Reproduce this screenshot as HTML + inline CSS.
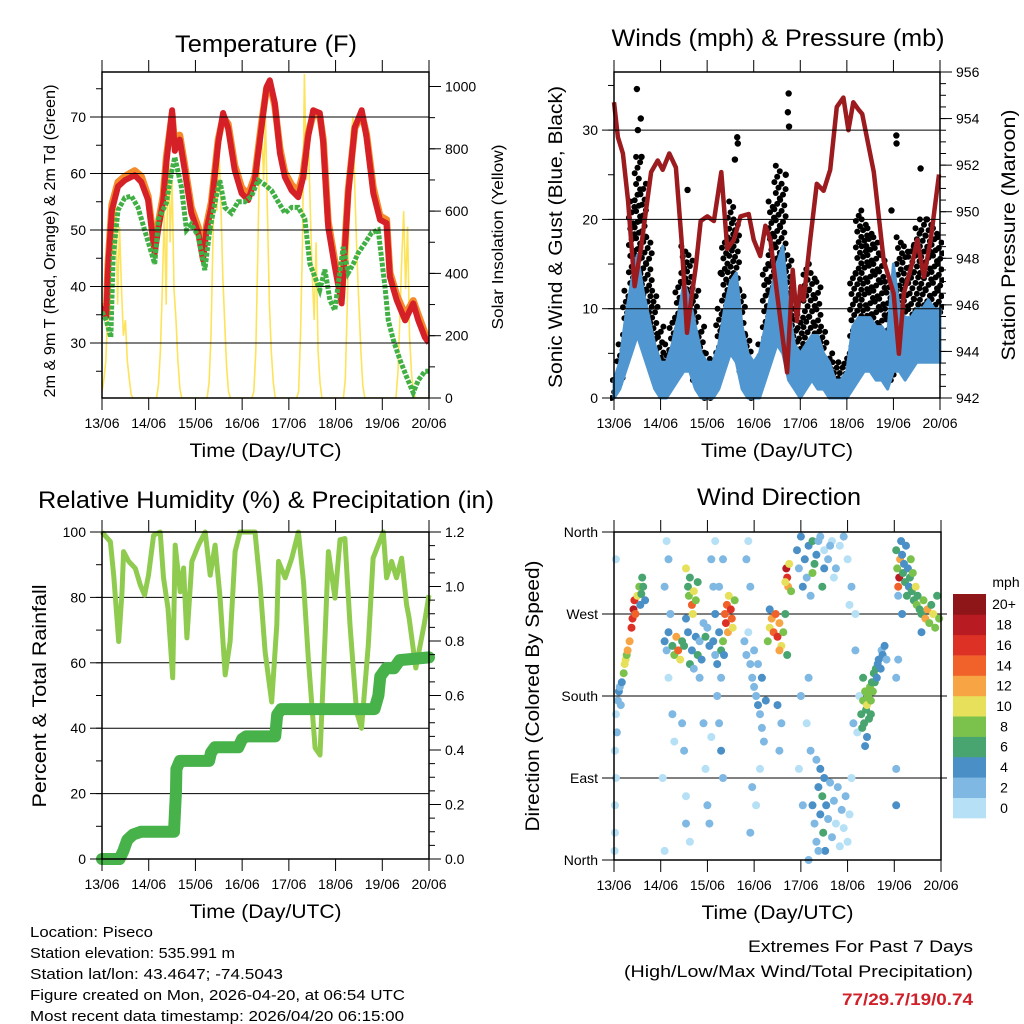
<!DOCTYPE html>
<html><head><meta charset="utf-8"><style>
html,body{margin:0;padding:0;background:#fff;}
svg{display:block;font-family:"Liberation Sans",sans-serif;}
</style></head><body>
<svg id="chart" width="1024" height="1024" viewBox="0 0 1024 1024" xmlns="http://www.w3.org/2000/svg"></svg>
<script>
// ---------- DATA ----------
const tempHours=[0,2.2,3.1,5.1,8.2,11.7,16.8,20.2,23.7,27.1,28.8,31.4,33.1,36,37.4,39.9,42.5,45.9,49.4,51.9,53.7,56.2,59.7,62.2,64.8,68.2,71.7,75.1,78.5,81.9,84.5,86.2,88.8,91.4,93.9,97.4,100.8,103.4,105.9,108.5,111.9,113.7,116.2,119.6,123.1,126.5,129.9,133.4,135.9,139.4,142.8,146.2,147.9,151.4,155.7,159.9,162.5,165.9,168];
const tempRed=[36.5,34.7,43,53.5,57.7,58.8,59.7,58.5,55.3,45.9,50,55,62,71.2,64,66,60.6,53,49.5,44.7,50,54,65.4,70.7,68,60.6,56.5,55.3,58.8,68,75.3,76.5,72.5,63.6,59.4,57,55.8,59.4,66.5,71.2,70.7,65.4,50.5,43.5,37,56.5,68.2,71.2,66.5,56.5,51.8,51.2,41.7,37.6,34,37,34,31,30];
const tempOrange=[37,35.5,44,54.5,58.5,59.5,60.5,59.5,56,46.5,51,56,63,70.5,65,66.8,61.5,54,50.5,45.5,50.8,55,66,70,68.8,61.5,57.5,56.2,59.5,68.8,75,76,72,64.5,60.2,58,56.8,60.2,67,70.5,70.2,66,51.5,44.5,38,57,68,70.6,67,57.5,52.5,51.8,42.5,38.5,35,37.5,35,31.8,30.5];
const dewHours=[0,2.2,4.5,5.7,8.2,11.7,15.1,18.5,21.9,25.4,27.1,29.1,33.1,35.6,37.4,40.8,43.4,45.9,49.4,52.8,55.4,58,60.5,63.1,66.5,69.9,73.4,76.8,80.2,83.7,87.1,90.5,94,97.4,100.8,104.2,106.8,109.4,111.9,114.5,117.1,119.6,123.9,126.5,129.1,131.6,135.1,138.5,141.9,145.4,147.1,149.7,153.1,156.5,159.9,162.5,165.9,168];
const dewValues=[35.5,34,31,45,53.5,55.7,56,54,50,46,44,52,54.8,60,62.9,57.6,50,51,49,42.9,50,54.8,58.8,54,53,55,55,56,58.8,58,57,55,53,54,54,52,44,41.7,39.4,43,37.6,35.8,47,42.4,44,45.9,47.7,49.5,50,39.9,34,30.5,27,24,21.2,23.4,25,25];
const solarValues=[20,60,120,300,250,600,450,650,300,550,350,200,250,120,60,10,0,0,0,0,0,0,0,0,
0,0,0,0,0,40,150,350,600,300,850,500,700,350,250,120,30,0,0,0,0,0,0,0,
0,0,0,0,0,0,0,50,200,500,750,600,800,650,400,250,100,20,0,0,0,0,0,0,
0,0,0,0,0,0,20,150,450,800,890,700,900,600,300,150,50,0,0,0,0,0,0,0,
0,0,0,0,0,20,200,500,1040,700,850,600,400,250,500,150,50,0,0,0,0,0,0,0,
0,0,0,0,0,60,300,600,850,900,650,450,300,150,40,0,0,0,0,0,0,0,0,0,
0,0,0,0,0,0,0,0,80,250,450,600,350,550,200,80,20,0,0,0,0,0,0,0,0];
const windHours=[0,3,6,9,12,15,18,21,24,27,30,33,36,39,42,45,48,51,54,57,60,63,66,69,72,75,78,81,84,87,90,93,96,99,102,105,108,111,114,117,120,123,126,129,132,135,138,141,144,147,150,153,156,159,162,165,168];
const windLow=[0,1,3,5,7,5,3,1,0,0,1,2,3,3,1,0,0,0,1,3,5,4,1,0,0,0,2,4,6,5,2,1,0,1,2,1,1,0,0,0,0,1,2,3,3,2,2,1,3,3,2,3,4,4,4,4,4];
const windHigh=[2,4,9,13,16,12,9,6,4,4,6,9,13,11,8,5,4,4,6,10,13,14,8,5,4,5,8,12,15,17,10,6,5,6,7,7,5,4,2,2,3,8,9,9,9,8,8,7,15,10,9,9,10,10,11,10,10];
const gustLow=[0,1,4,8,10,8,6,3,1,1,2,3,5,5,2,1,0,0,2,5,8,8,3,1,0,1,5,10,12,10,5,2,2,5,6,5,2,1,1,1,1,4,8,8,7,6,5,4,2,6,6,7,8,8,9,8,9];
const gustHigh=[2,6,12,22,27,24,18,12,8,6,9,13,17,16,12,8,5,4,10,18,22,20,12,7,4,6,15,22,26,24,16,10,9,15,14,13,8,5,4,4,5,14,21,20,19,18,16,13,10,18,17,17,19,20,20,19,18];
const gustPeakHours=[11.8,13.8,12.3,14.2,37.9,55,62.3,63.5,63.8,88.5,90,89.6,90.2,145.5,145.6,158,161,143,130];
const gustPeakValues=[34.6,31.3,30,27,23.3,14,26.7,29.2,28.5,25,34.1,32,30.4,29.4,28.5,25.7,20,21,17];
const presHours=[0,2,4.6,7.2,10.6,14,19.1,22.5,25.1,28.5,31.9,34.8,37.6,39.9,42.1,44.7,48.1,51.5,55.3,58.4,61.8,65.2,69.4,72,75.4,78,80.6,84,89.2,92.1,94.3,96,97.7,101.1,104.5,108,111.4,114.8,118.2,120.8,123.3,125.9,127.9,133.9,139,144.1,146.8,149.4,153.7,156.3,159.7,163.2,167.5];
const presValues=[954.7,953.2,952.5,950.5,946.8,948.5,951.7,952.2,951.8,952.5,951.9,948.8,944.8,946.3,947.6,949.6,949.8,949.6,951.7,948.4,948.8,949.8,949.9,948.8,948.1,949.4,948.8,946.5,943.1,947.5,945.3,946.8,946.2,948.8,951.2,950.9,951.8,954.5,954.9,953.5,954.7,954.4,954.2,951.7,947.9,946.5,943.9,946.5,947.8,948.8,947.2,948.8,951.6];
const rhHours=[0,4.3,6,8.6,10.3,11.1,13.7,17.1,19.7,21.9,23.9,26.5,29.9,31.6,33.9,36.3,37.6,40.2,41.9,43.6,46.2,49.6,53,55.6,58.1,60.7,63.3,65.8,68.4,70.9,78.6,81.2,83.8,87.2,89.8,90.7,94.1,97.5,100.9,103.5,106,109.5,112,114.6,116.3,119.7,122.3,124.8,127.4,130.8,133.3,136.8,139.3,144.5,146.2,148.8,151.3,153.9,156.5,157.8,161.2,165.5,168];
const rhValues=[100,97,86.8,66.5,81.7,94,91,88.9,83.8,80.7,86.8,99,100,86,76.7,55.4,96,81.7,89,67.6,91,96,100,86.8,96,79.8,56.3,66.5,94,100,100,83.8,63.4,48,71.6,91,86,92,100,84.8,61.4,34,31.8,68.5,94,79.8,97.6,98,71.6,45,40,65.4,92,100,86,91,86,92,77.7,73.7,58.4,71.6,80.7];
const precipHours=[0,9,11,13,16,20,37,37.4,37.8,38,38.2,40,55,56,58,70,72,74,89,90,92,140,142,143,146,150,153,168];
const precipValues=[0,0,0.03,0.07,0.09,0.1,0.1,0.16,0.22,0.25,0.33,0.36,0.36,0.39,0.41,0.41,0.44,0.45,0.45,0.53,0.55,0.55,0.6,0.67,0.7,0.7,0.73,0.74];
const dirHours=[2,2.5,3,3.5,4,5,5.5,6,6.5,7,8,9,9.5,10,10.5,11,12,13,14,13.5,15,16,14.5,0.5,0.5,1,0.5,1.5,1,0.3,1,
26,27,28,30,31,32,33,34,35,36,38,39,40,42,43,44,45,46,48,49,47,41,37,29,
37,38,38.5,39,40,41,42,43,40.5,
27,28,26,30,31,35,36,37,37,39,25,28,26,44,46,47,48,49,50,50,51,52,
57,57.5,58,58.5,59,60,60.5,61,62,56,55,56.5,
51,52,53,54,55,53,54,55,56,54,52,56,
67,68,69,70,71,72,73,74,75,76,77,72,74,76,78,79,80,81,82,83,84,85,86,87,88,89,80,85,70,68,69,71,73,70,75,85,86,84,
88.5,89,89.5,90,88,91,
94,95,96,97,98,99,100,101,102,103,104,102,100,99,101,96,95,97,
102,103,104,105,106,107,107.5,108,108.5,109,110,111,112,113,114,115,116,117,118,119,120,121,122,106,105,100,104,
106,108,110,112,114,116,118,120,122,107,108,111,113,105,121,124,124,126,123,125,
127,127.5,128,128.5,129,129.5,130,130.5,131,131.5,132,132.5,133,133.5,134,134.5,135,135.5,136,137,137.5,138,139,140,128,130,129,132,
145,145.5,146,146.5,147,147.5,148,148.5,149,149.5,150,150.5,151,151.5,152,152.5,153,153.5,154,155,155.5,156,157,158,159,160,161,162,163,164,165,166,167,146,158,148,145,145,145,146];
const dirValues=[175,185,190,170,195,205,215,220,225,230,240,255,265,275,285,270,290,300,292,280,300,285,310,120,60,90,30,140,160,10,330,
240,230,250,235,225,245,230,220,240,235,250,215,230,245,225,240,220,260,255,235,245,210,265,270,
320,300,290,310,280,295,285,305,270,
350,330,300,160,130,150,120,70,40,20,90,200,10,200,150,100,60,40,135,330,300,270,
270,260,280,250,290,275,265,255,285,240,230,225,
240,225,215,250,200,180,150,120,90,300,350,330,
240,225,250,215,200,190,180,170,160,145,130,230,215,200,175,240,255,265,250,270,245,260,235,250,270,225,275,230,300,330,350,80,60,30,100,120,150,170,
320,310,300,325,305,295,
340,320,355,300,330,310,345,290,350,325,335,315,200,150,120,180,100,60,
60,40,20,80,50,70,30,90,10,60,45,85,25,65,40,80,15,55,35,70,20,50,90,100,10,0,110,
355,340,330,350,320,345,355,330,300,300,320,345,310,350,280,230,270,180,150,140,
160,145,175,150,185,165,170,180,155,190,175,195,185,205,195,210,200,215,220,210,230,225,235,220,200,135,125,160,
340,320,300,310,330,350,335,315,325,305,345,290,320,300,310,330,295,315,285,300,280,290,275,270,285,265,275,260,280,270,255,290,265,290,250,270,200,100,60,220];
const dirSpeeds=[3,4,3,2,5,8,10,11,9,12,13,16,17,18,16,15,10,8,6,5,7,4,6,1,0,1,1,2,1,0,1,
4,3,5,6,8,12,14,10,6,7,5,6,4,5,7,3,4,2,3,4,6,3,4,3,
10,6,8,7,14,10,9,6,11,
1,2,2,2,1,2,2,1,2,1,1,1,0,2,2,1,2,3,1,2,3,4,
14,16,15,12,10,17,14,11,8,8,6,5,
4,3,5,4,3,2,2,4,2,3,1,2,
2,3,1,2,3,2,3,4,3,2,3,2,3,4,4,8,10,12,14,15,16,13,10,8,7,6,5,12,2,2,1,2,1,2,1,3,2,4,
18,16,12,11,10,9,
4,3,5,4,4,3,5,3,6,7,5,8,2,1,3,2,1,2,
4,3,2,4,5,6,6,4,5,4,3,2,3,2,1,2,1,2,1,2,1,1,1,4,3,3,2,
2,1,2,1,2,1,2,1,2,6,5,2,1,3,1,2,1,1,2,1,
6,7,8,6,9,7,10,8,7,8,9,7,8,6,7,6,5,4,5,4,3,5,4,3,7,5,4,6,
6,8,14,18,12,5,4,6,5,7,5,6,4,5,6,8,7,9,6,10,8,6,7,6,8,12,12,9,7,10,8,6,9,3,4,4,3,3,4,2];
const speedColors=["#b5e0f6","#7fb8e2","#4a8fc6","#48a56f","#7bc24d","#e7e05a","#f7a445","#f0622a","#de3126","#b81b22","#8e1518"];
const speedLabels=["0","2","4","6","8","10","12","14","16","18","20+"];
const dayLabels=["13/06","14/06","15/06","16/06","17/06","18/06","19/06","20/06"];

// ---------- HELPERS ----------
const NS="http://www.w3.org/2000/svg";
const svg=document.getElementById('chart');
function mk(tag,attrs,parent){const e=document.createElementNS(NS,tag);for(const k in attrs)e.setAttribute(k,attrs[k]);(parent||svg).appendChild(e);return e;}
function txt(s,x,y,size,anchor,parent,extra){const e=mk('text',Object.assign({x:x,y:y,'font-size':size,'text-anchor':anchor||'middle',fill:'#000'},extra||{}),parent);e.textContent=s;return e;}
function lin(d0,d1,r0,r1){return v=>r0+(v-d0)/(d1-d0)*(r1-r0);}
function pts(xs,ys,fx,fy){return xs.map((h,i)=>fx(h).toFixed(1)+","+fy(ys[i]).toFixed(1)).join(" ");}

function xAxis(g,x0,x1,y0,y1,fx){
  dayLabels.forEach((d,i)=>{const x=fx(i*24);
    const t=mk('line',{x1:x,x2:x,y1:y1,y2:y1+12,stroke:'#000','stroke-width':1},g);
    
    mk('line',{x1:x,x2:x,y1:y0,y2:y0-12,stroke:'#000','stroke-width':1},g);
    const l=txt(d,x,y1+30,14,'middle',g);
    
  });
  const a=txt("Time (Day/UTC)",(x0+x1)/2,y1+59,19,'middle',g,{textLength:152,lengthAdjust:'spacingAndGlyphs'});
  
}
function yTicks(g,vals,fy,xEdge,side,labels,minor,y0,y1){
  const dir=side==='left'?-1:1;
  vals.forEach((v,i)=>{const y=fy(v);
    mk('line',{x1:xEdge,x2:xEdge+dir*12,y1:y,y2:y,stroke:'#000','stroke-width':1},g);
    if(labels){const l=txt(labels[i],xEdge+dir*16,y+5,14,side==='left'?'end':'start',g);
      }
  });
  (minor||[]).forEach(v=>{const y=fy(v);if(y<y0-0.5||y>y1+0.5)return;
    mk('line',{x1:xEdge,x2:xEdge+dir*6,y1:y,y2:y,stroke:'#000','stroke-width':1},g);});
}
function range(a,b,s){const r=[];for(let v=a;v<=b+1e-9;v+=s)r.push(+v.toFixed(4));return r;}
function grid(g,vals,fy,x0,x1){vals.forEach(v=>{const y=fy(v);
  const l=mk('line',{x1:x0,x2:x1,y1:y,y2:y,stroke:'#000','stroke-width':1},g);
  });}
function frame(g,x0,x1,y0,y1){const r=mk('rect',{x:x0,y:y0,width:x1-x0,height:y1-y0,fill:'none',stroke:'#000','stroke-width':1.5},g);
  }
function vlabel(g,s,x,yc,len,size){const e=txt(s,0,0,size,'middle',g,{transform:`translate(${x},${yc}) rotate(-90)`,textLength:len,lengthAdjust:'spacingAndGlyphs'});return e;}

// ---------- PANEL 1: TEMPERATURE ----------
(function(){
  const g=mk('g',{});
  
  const x0=102,x1=429,y0=72,y1=398;
  const fx=lin(0,168,x0,x1), fy=lin(30,70,343,117), fs=lin(0,1000,398,86.5);
  const cp=mk('clipPath',{id:'c1'},g);mk('rect',{x:x0,y:y0,width:x1-x0,height:y1-y0},cp);
  const pg=mk('g',{'clip-path':'url(#c1)'},g);
  const sh=solarValues.map((v,i)=>i);
  const s=mk('polyline',{points:pts(sh,solarValues,fx,fs),fill:'none',stroke:'#fde35a','stroke-width':1.6},pg);
  
  grid(g,[30,40,50,60,70],fy,x0,x1);
  const o=mk('polyline',{points:pts(tempHours,tempOrange,fx,fy),fill:'none',stroke:'#f58a2a','stroke-width':7,'stroke-linejoin':'round'},pg);
  
  const r=mk('polyline',{points:pts(tempHours,tempRed,fx,fy),fill:'none',stroke:'#d62027','stroke-width':6,'stroke-linejoin':'round'},pg);
  
  const d=mk('polyline',{points:pts(dewHours,dewValues,fx,fy),fill:'none',stroke:'#41b044','stroke-width':5,'stroke-dasharray':'4 1.5'},pg);
  
  frame(g,x0,x1,y0,y1);
  yTicks(g,[30,40,50,60,70],fy,x0,'left',["30","40","50","60","70"],range(20,78,5),y0,y1);
  yTicks(g,[0,200,400,600,800,1000],fs,x1,'right',["0","200","400","600","800","1000"],range(0,1000,100),y0,y1);
  xAxis(g,x0,x1,y0,y1,fx);
  const t=txt("Temperature (F)",266,52,24,'middle',g,{textLength:182,lengthAdjust:'spacingAndGlyphs'});
  
  const a=vlabel(g,"2m & 9m T (Red, Orange) & 2m Td (Green)",55,241,313,16);
  
  const b=vlabel(g,"Solar Insolation (Yellow)",503,237,185,16);
  
})();

// ---------- PANEL 2: WINDS ----------
(function(){
  const g=mk('g',{});
  
  const x0=614,x1=940,y0=72,y1=398;
  const fx=lin(0,168,x0,x1), fy=lin(0,10,398,308.7), fp=lin(942,956,398,72);
  const cp=mk('clipPath',{id:'c2'},g);mk('rect',{x:x0-4,y:y0,width:x1-x0+8,height:y1-y0+5},cp);
  const pg=mk('g',{'clip-path':'url(#c2)'},g);
  grid(g,[10,20,30],fy,x0,x1);
  const gg=mk('g',{fill:'#000'},pg);
  
  const offs=[-2.6,0.2,2.8,-1.2,1.5];
  windHours.forEach((h,i)=>{const lo=gustLow[i],hi=gustHigh[i];const n=Math.max(1,Math.round((hi-lo)/0.6));
    for(let k=0;k<=n;k++){const v=lo+(hi-lo)*k/n;const x=fx(h)+offs[k%5];
      mk('circle',{cx:x.toFixed(1),cy:fy(v).toFixed(1),r:3},gg);}});
  gustPeakHours.forEach((h,i)=>{const c=mk('circle',{cx:fx(h),cy:fy(gustPeakValues[i]),r:3.2,fill:'#000'},pg);
    });
  const up=windHours.map((h,i)=>fx(h).toFixed(1)+","+fy(windHigh[i]).toFixed(1));
  const dn=windHours.map((h,i)=>fx(h).toFixed(1)+","+fy(windLow[i]).toFixed(1)).reverse();
  const w=mk('polygon',{points:up.concat(dn).join(" "),fill:'#5097d1',stroke:'#5097d1','stroke-width':3,'stroke-linejoin':'round'},pg);
  
  const p=mk('polyline',{points:pts(presHours,presValues,fx,fp),fill:'none',stroke:'#9b1b1e','stroke-width':4.5,'stroke-linejoin':'round'},pg);
  
  frame(g,x0,x1,y0,y1);
  yTicks(g,[0,10,20,30],fy,x0,'left',["0","10","20","30"],range(0,36,5),y0,y1);
  yTicks(g,range(942,956,2),fp,x1,'right',range(942,956,2).map(String),range(942,956,0.5),y0,y1);
  xAxis(g,x0,x1,y0,y1,fx);
  const t=txt("Winds (mph) & Pressure (mb)",778,46,24,'middle',g,{textLength:333,lengthAdjust:'spacingAndGlyphs'});
  
  const a=vlabel(g,"Sonic Wind & Gust (Blue, Black)",562,237,302,19);
  
  const b=vlabel(g,"Station Pressure (Maroon)",1015,235,251,19);
  
})();

// ---------- PANEL 3: RH & PRECIP ----------
(function(){
  const g=mk('g',{});
  
  const x0=102,x1=429,y0=532,y1=859;
  const fx=lin(0,168,x0,x1), fy=lin(0,100,859,532), fr=lin(0,1.2,859,532);
  grid(g,[20,40,60,80],fy,x0,x1);
  const rh=mk('polyline',{points:pts(rhHours,rhValues,fx,fy),fill:'none',stroke:'#8fcb4f','stroke-width':5,'stroke-linejoin':'round'},g);
  
  const pr=mk('polyline',{points:pts(precipHours,precipValues,fx,fr),fill:'none',stroke:'#47b14a','stroke-width':12,'stroke-linecap':'round','stroke-linejoin':'round'},g);
  
  frame(g,x0,x1,y0,y1);
  yTicks(g,[0,20,40,60,80,100],fy,x0,'left',["0","20","40","60","80","100"],range(0,100,10),y0,y1);
  yTicks(g,range(0,1.2,0.2),fr,x1,'right',["0.0","0.2","0.4","0.6","0.8","1.0","1.2"],range(0,1.2,0.05),y0,y1);
  xAxis(g,x0,x1,y0,y1,fx);
  const t=txt("Relative Humidity (%) & Precipitation (in)",266,508,24,'middle',g,{textLength:456,lengthAdjust:'spacingAndGlyphs'});
  
  const a=vlabel(g,"Percent & Total Rainfall",46,696,223,19);
  
})();

// ---------- PANEL 4: WIND DIRECTION ----------
(function(){
  const g=mk('g',{});
  
  const x0=614,x1=941,y0=532,y1=860;
  const fx=lin(0,168,x0,x1), fy=lin(0,360,860,532);
  grid(g,[90,180,270],fy,x0,947);
  const pg=mk('g',{},g);
  dirHours.forEach((h,i)=>{const idx=Math.min(10,Math.floor(dirSpeeds[i]/2));
    const c=mk('circle',{cx:fx(h).toFixed(1),cy:fy(dirValues[i]).toFixed(1),r:4,fill:speedColors[idx]},pg);
    
    });
  frame(g,x0,x1,y0,y1);
  yTicks(g,[0,90,180,270,360],fy,x0,'left',["North","East","South","West","North"],[],y0,y1);
  xAxis(g,x0,x1,y0,y1,fx);
  const t=txt("Wind Direction",779,505,24,'middle',g,{textLength:164,lengthAdjust:'spacingAndGlyphs'});
  
  const a=vlabel(g,"Direction (Colored By Speed)",539,696,271,19);
  
  const lg=mk('g',{},g);
  
  const bx=953,by0=594,by1=818,bh=(by1-by0)/11;
  speedColors.forEach((c,i)=>{const y=by1-(i+1)*bh;
    const r=mk('rect',{x:bx,y:y.toFixed(1),width:33,height:(bh+0.3).toFixed(1),fill:c},lg);
    
    const l=txt(speedLabels[i],1004,y+bh/2+5,14,'middle',lg);
    });
  const m=txt("mph",1006,587,14,'middle',lg);
  
})();

// ---------- FOOTER ----------
(function(){
  const g=mk('g',{});
  
  const lines=[["Location: Piseco",123],["Station elevation: 535.991 m",205],["Station lat/lon: 43.4647; -74.5043",253],["Figure created on Mon, 2026-04-20, at 06:54 UTC",375],["Most recent data timestamp: 2026/04/20 06:15:00",374]];
  lines.forEach((l,i)=>{const e=txt(l[0],30,937+i*21,15,'start',g,{textLength:l[1],lengthAdjust:'spacingAndGlyphs'});
    });
  const e1=txt("Extremes For Past 7 Days",973,952,17,'end',g,{textLength:225,lengthAdjust:'spacingAndGlyphs'});
  
  const e2=txt("(High/Low/Max Wind/Total Precipitation)",973,977,17,'end',g,{textLength:349,lengthAdjust:'spacingAndGlyphs'});
  
  const e3=txt("77/29.7/19/0.74",973,1005,17,'end',g,{fill:'#d0202a','font-weight':'bold',textLength:131,lengthAdjust:'spacingAndGlyphs'});
  
})();
</script>
</body></html>
